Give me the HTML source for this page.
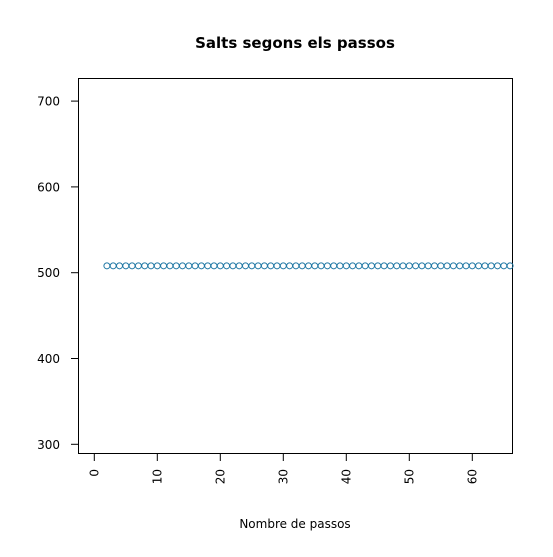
<!DOCTYPE html>
<html><head><meta charset="utf-8"><style>
body{margin:0;background:#fff}
text{font-family:"DejaVu Sans","Liberation Sans",sans-serif;fill:#000}
</style></head><body>
<svg id="c" width="553" height="552">
<text x="295" y="48" text-anchor="middle" font-size="15" font-weight="bold">Salts segons els passos</text>
<text x="295" y="528" text-anchor="middle" font-size="12">Nombre de passos</text>
<rect x="78.5" y="78.5" width="434" height="375" fill="none" stroke="#000"/>
<g id="pts"></g>
</svg>
<script>
const xs = [];
for (let i = 2; i <= 66; i++) xs.push(i);
const ys = [508,508,508,508,508,508,508,508,508,508,508,508,508,508,508,508,508,508,508,508,508,508,508,508,508,508,508,508,508,508,508,508,508,508,508,508,508,508,508,508,508,508,508,508,508,508,508,508,508,508,508,508,508,508,508,508,508,508,508,508,508,508,508,508,508];
const xTicks = [0,10,20,30,40,50,60];
const yTicks = [300,400,500,600,700];
const sx = v => 94.3 + v * 6.3;
const sy = v => 272.7 - (v - 500) * 0.858;
const svg = document.getElementById('c');
const NS = 'http://www.w3.org/2000/svg';
function mk(t, a, p) { const e = document.createElementNS(NS, t); for (const k in a) e.setAttribute(k, a[k]); (p || svg).appendChild(e); return e; }
xTicks.forEach(v => {
  const l = mk('line', {x1: sx(v), x2: sx(v), y1: 454, y2: 461, stroke: '#000'});
  
  
  const t = mk('text', {x: 0, y: 0, 'font-size': 12, 'text-anchor': 'end', transform: `translate(${sx(v) + 4},469) rotate(-90)`});
  t.textContent = v;
  
  
});
yTicks.forEach(v => {
  const l = mk('line', {x1: 71, x2: 78, y1: sy(v), y2: sy(v), stroke: '#000'});
  
  
  const t = mk('text', {x: 60, y: sy(v) + 4.5, 'font-size': 12, 'text-anchor': 'end'});
  t.textContent = v;
  
  
});
const g = document.getElementById('pts');


xs.forEach((x, i) => {
  const c = mk('circle', {cx: sx(x), cy: sy(ys[i]), r: 3, fill: 'none', stroke: '#1f77a4', 'stroke-width': 1}, g);
  
  
});
</script>
</body></html>
